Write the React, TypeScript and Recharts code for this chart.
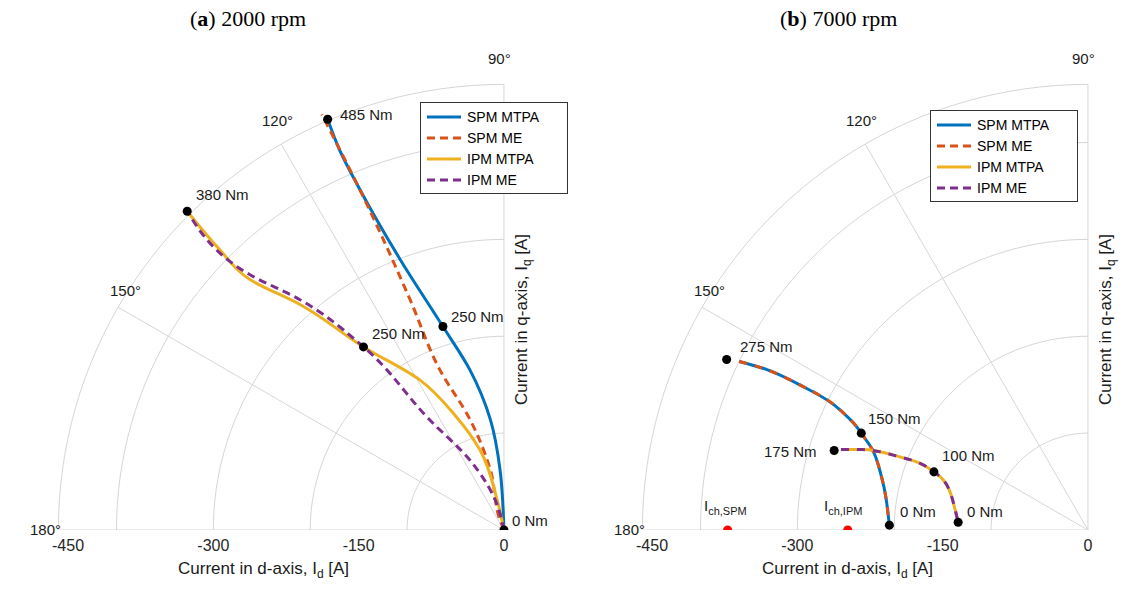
import React from 'react';
import { ScatterChart, Scatter, XAxis, YAxis } from 'recharts';

// ---- data (A) ----
const xTicks = [-450, -300, -150, 0];
const ringRadii = [100, 200, 300, 400, 460];
const spokeAngles = [90, 120, 150, 180];

// (a) 2000 rpm
const spmMtpaA = [
  { x: 0, y: 0 }, { x: -4, y: 62 }, { x: -14, y: 114 }, { x: -35, y: 165 }, { x: -63, y: 210 },
  { x: -107, y: 279 }, { x: -149, y: 352 }, { x: -170, y: 393 }, { x: -182, y: 424 },
];
const spmMeA = [
  { x: 0, y: 0 }, { x: -4, y: 10 }, { x: -14, y: 62 }, { x: -35, y: 114 }, { x: -66, y: 165 },
  { x: -97, y: 238 }, { x: -139, y: 331 }, { x: -188, y: 429 },
];
const ipmMtpaA = [
  { x: 0, y: 0 }, { x: -7, y: 31 }, { x: -25, y: 83 }, { x: -51, y: 119 }, { x: -87, y: 155 },
  { x: -145, y: 189 }, { x: -211, y: 233 }, { x: -263, y: 259 }, { x: -294, y: 290 }, { x: -327, y: 329 },
];
const ipmMeA = [
  { x: 0, y: 0 }, { x: -9, y: 31 }, { x: -35, y: 72 }, { x: -77, y: 114 }, { x: -145, y: 189 },
  { x: -211, y: 238 }, { x: -263, y: 264 }, { x: -327, y: 329 },
];
const dotsA = [
  { x: 0, y: 0 }, { x: -63, y: 210 }, { x: -145, y: 189 }, { x: -327, y: 329 }, { x: -182, y: 424 },
];

// (b) 7000 rpm
const spmB = [
  { x: -360, y: 174 }, { x: -330, y: 165 }, { x: -298, y: 150 }, { x: -256, y: 124 }, { x: -234, y: 100 },
  { x: -215, y: 62 }, { x: -208, y: 30 }, { x: -205, y: 5 },
];
const ipmB = [
  { x: -255, y: 83 }, { x: -233, y: 83 }, { x: -200, y: 77 }, { x: -159, y: 60 },
  { x: -143, y: 41 }, { x: -134, y: 8 },
];
const dotsB = [
  { x: -373, y: 176 }, { x: -234, y: 100 }, { x: -205, y: 5 }, { x: -262, y: 82 }, { x: -159, y: 60 }, { x: -134, y: 8 },
];
const charB = [{ x: -372, y: 0 }, { x: -248, y: 0 }];

const BLUE = '#0072BD';
const RED = '#D95319';
const YELLOW = '#EDB120';
const PURPLE = '#7E2F8E';
const GRID = '#d6d6d6';
const FONT = 'Liberation Sans, Arial, sans-serif';

// grid geometry (polar rings and spokes)
const arc = (r: number) => {
  const pts = [];
  for (let a = 90; a <= 180; a += 2) {
    const t = (a * Math.PI) / 180;
    pts.push({ x: r * Math.cos(t), y: r * Math.sin(t) });
  }
  return pts;
};
const spoke = (deg: number) => {
  const t = (deg * Math.PI) / 180;
  return [{ x: 0, y: 0 }, { x: 460 * Math.cos(t), y: 460 * Math.sin(t) }];
};

const noShape = () => <g />;

type Series = { data: { x: number; y: number }[]; color: string; dash?: string; curve?: any };

const Polar: React.FC<{ left: number; lines: Series[]; dots: { x: number; y: number }[]; red?: { x: number; y: number }[] }> = ({ left, lines, dots, red }) => (
  <div style={{ position: 'absolute', left, top: 0 }}>
    <ScatterChart width={560} height={596} margin={{ top: 65, bottom: 36, left: 39, right: 27 }}>
      <XAxis type="number" dataKey="x" domain={[-480, 30]} ticks={xTicks} axisLine={false} tickLine={false}
        tick={{ fontSize: 16, fill: '#262626', fontFamily: FONT }} height={30} tickMargin={4} allowDataOverflow />
      <YAxis type="number" dataKey="y" domain={[0, 480]} hide allowDataOverflow />
      {ringRadii.map(r => (
        <Scatter key={'r' + r} data={arc(r)} line={{ stroke: GRID, strokeWidth: 1 }} shape={noShape} isAnimationActive={false} />
      ))}
      {spokeAngles.map(a => (
        <Scatter key={'s' + a} data={spoke(a)} line={{ stroke: GRID, strokeWidth: 1 }} shape={noShape} isAnimationActive={false} />
      ))}
      {lines.map((s, i) => (
        <Scatter key={i} data={s.data} line={{ stroke: s.color, strokeWidth: 3, strokeDasharray: s.dash }}
          lineJointType={s.curve} shape={noShape} isAnimationActive={false} />
      ))}
      <Scatter data={dots} fill="#000" isAnimationActive={false} />
      {red && <Scatter data={red} fill="#ff0000" isAnimationActive={false} />}
    </ScatterChart>
  </div>
);

const T: React.FC<{ x: number; y: number; children: React.ReactNode; size?: number }> = ({ x, y, children, size = 15 }) => (
  <div style={{ position: 'absolute', left: x, top: y, fontFamily: FONT, fontSize: size, color: '#1a1a1a', whiteSpace: 'nowrap' }}>{children}</div>
);

const Legend: React.FC<{ left: number; top: number; items: Series[]; names: string[] }> = ({ left, top, items, names }) => (
  <div style={{ position: 'absolute', left, top, width: 146, border: '1px solid #333', background: '#fff', padding: '3px 0', fontFamily: FONT, fontSize: 14 }}>
    {items.map((s, i) => (
      <div key={i} style={{ display: 'flex', alignItems: 'center', height: 21 }}>
        <svg width={46} height={10}><line x1={6} x2={40} y1={5} y2={5} stroke={s.color} strokeWidth={3} strokeDasharray={s.dash} /></svg>
        <span>{names[i]}</span>
      </div>
    ))}
  </div>
);

const legendNames = ['SPM MTPA', 'SPM ME', 'IPM MTPA', 'IPM ME'];
const legendItems: Series[] = [
  { data: [], color: BLUE }, { data: [], color: RED, dash: '8 5' },
  { data: [], color: YELLOW }, { data: [], color: PURPLE, dash: '8 5' },
];

const axisLabels = (ox: number) => (
  <>
    <T x={ox - 326} y={559} size={17}>Current in d-axis, I<sub style={{ fontSize: 12 }}>d</sub> [A]</T>
    <div style={{ position: 'absolute', left: ox + 8, top: 405, transform: 'rotate(-90deg)', transformOrigin: '0 0', fontFamily: FONT, fontSize: 17, whiteSpace: 'nowrap', color: '#1a1a1a' }}>
      Current in q-axis, I<sub style={{ fontSize: 12 }}>q</sub> [A]
    </div>
    <T x={ox - 16} y={50}>90°</T>
    <T x={ox - 242} y={112}>120°</T>
    <T x={ox - 394} y={282}>150°</T>
    <T x={ox - 474} y={521}>180°</T>
  </>
);

export default function App() {
  return (
    <div style={{ position: 'absolute', left: 0, top: 0, width: 1133, height: 596, background: '#fff', overflow: 'hidden' }}>
      <Polar left={0} lines={[
        { data: spmMtpaA, color: BLUE, curve: 'monotoneY' }, { data: spmMeA, color: RED, dash: '8 5', curve: 'monotoneY' },
        { data: ipmMtpaA, color: YELLOW, curve: 'monotoneY' }, { data: ipmMeA, color: PURPLE, dash: '8 5', curve: 'monotoneY' },
      ]} dots={dotsA} />
      <Polar left={584} lines={[
        { data: spmB, color: BLUE, curve: 'monotoneX' }, { data: spmB, color: RED, dash: '8 8', curve: 'monotoneX' },
        { data: ipmB, color: YELLOW, curve: 'monotoneX' }, { data: ipmB, color: PURPLE, dash: '8 8', curve: 'monotoneX' },
      ]} dots={dotsB} red={charB} />

      <div style={{ position: 'absolute', left: 190, top: 6, fontFamily: 'Liberation Serif, serif', fontSize: 22 }}>(<b>a</b>) 2000 rpm</div>
      <div style={{ position: 'absolute', left: 780, top: 6, fontFamily: 'Liberation Serif, serif', fontSize: 22 }}>(<b>b</b>) 7000 rpm</div>

      {axisLabels(504)}
      {axisLabels(1088)}

      <T x={340} y={106}>485 Nm</T>
      <T x={451} y={308}>250 Nm</T>
      <T x={372} y={325}>250 Nm</T>
      <T x={196} y={186}>380 Nm</T>
      <T x={512} y={512}>0 Nm</T>

      <T x={740} y={338}>275 Nm</T>
      <T x={868} y={410}>150 Nm</T>
      <T x={764} y={443}>175 Nm</T>
      <T x={942} y={447}>100 Nm</T>
      <T x={900} y={503}>0 Nm</T>
      <T x={967} y={503}>0 Nm</T>
      <T x={704} y={497}>I<sub style={{ fontSize: 11 }}>ch,SPM</sub></T>
      <T x={824} y={497}>I<sub style={{ fontSize: 11 }}>ch,IPM</sub></T>

      <Legend left={420} top={102} items={legendItems} names={legendNames} />
      <Legend left={930} top={110} items={legendItems} names={legendNames} />
    </div>
  );
}
